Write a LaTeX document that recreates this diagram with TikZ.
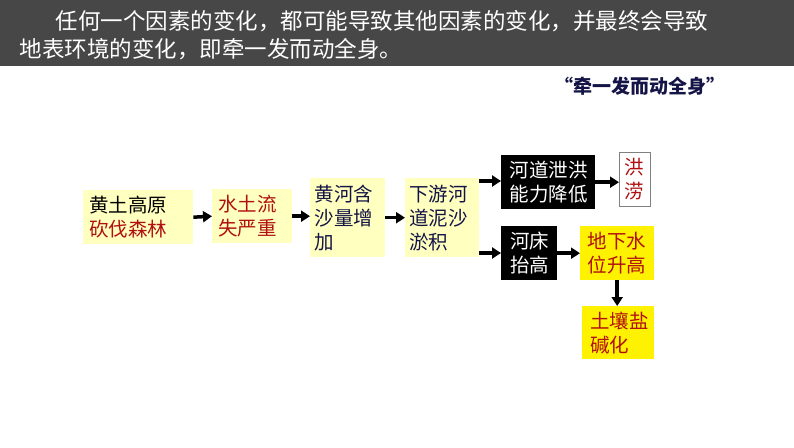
\documentclass[tikz,border=0pt]{standalone}
\usepackage{fontspec}
\setmainfont{Noto Sans CJK SC}
\usetikzlibrary{arrows.meta}
\definecolor{paleyellow}{RGB}{255,255,192}
\definecolor{darkred}{RGB}{176,16,16}
\definecolor{navy}{RGB}{20,20,70}
\begin{document}
\begin{tikzpicture}[x=1pt,y=-1pt,
  box/.style={fill=paleyellow, inner sep=0pt, align=left, anchor=north west, font=\fontsize{19.5}{24}\selectfont},
  blackbox/.style={fill=black, text=white, inner sep=0pt, align=left, anchor=north west, font=\fontsize{19.5}{24}\selectfont},
  flow/.style={-{Triangle[length=9pt,width=11pt]}, line width=3.5pt}
  ]
  \useasboundingbox (0,0) rectangle (794,447);
  \fill[white] (0,0) rectangle (794,447);
  \fill[black!72] (0,0) rectangle (794,66);
  \node[anchor=west, text=white, font=\fontsize{22.5}{26}\selectfont] (line1) at (52,21) {任何一个因素的变化，都可能导致其他因素的变化，并最终会导致};
  \node[anchor=west, text=white, font=\fontsize{22.5}{26}\selectfont] (line2) at (16,49) {地表环境的变化，即牵一发而动全身。};
  \node[text=navy, font=\bfseries\fontsize{19}{22}\selectfont] (quote) at (640,86) {“牵一发而动全身”};

  \node[box, minimum width=110pt, minimum height=54pt, text width=106pt] (A) at (83,190) {\hspace*{4pt}黄土高原\\\hspace*{4pt}\textcolor{darkred}{砍伐森林}};
  \node[box, minimum width=80pt, minimum height=54pt, text width=76pt, text=darkred] (B) at (212,189) {\hspace*{4pt}水土流\\\hspace*{4pt}失严重};
  \node[box, minimum width=75pt, minimum height=79pt, text width=72pt, text=navy] (C) at (310,178) {\hspace*{3pt}黄河含\\\hspace*{3pt}沙量增\\\hspace*{3pt}加};
  \node[box, minimum width=74pt, minimum height=79pt, text width=72pt, text=navy] (D) at (405,178) {\hspace*{3pt}下游河\\\hspace*{3pt}道泥沙\\\hspace*{3pt}淤积};
  \node[blackbox, minimum width=94pt, minimum height=54pt] (E) at (501,155) {\hspace*{4pt}河道泄洪\\\hspace*{4pt}能力降低\hspace*{3pt}};
  \node[draw=gray, fill=white, text=darkred, inner sep=0pt, minimum width=31pt, minimum height=54pt, anchor=north west, font=\fontsize{19.5}{24}\selectfont, align=center] (F) at (619,152) {洪\\涝};
  \node[blackbox, minimum width=56pt, minimum height=54pt] (G) at (501,226) {\hspace*{4pt}河床\\\hspace*{4pt}抬高\hspace*{3pt}};
  \node[box, fill=yellow, text=darkred, minimum width=74pt, minimum height=54pt] (H) at (580,226) {\hspace*{3pt}地下水\\\hspace*{3pt}位升高\hspace*{3pt}};
  \node[box, fill=yellow, text=darkred, minimum width=72pt, minimum height=53pt] (K) at (582,306) {\hspace*{3pt}土壤盐\\\hspace*{3pt}碱化};

  % Arrows
  \draw[flow] (A.east) -- (B.west);
  \draw[flow] (B.east) -- (C.west |- B.east);
  \draw[flow] (C.east |- D.center) -- (D.west);
  \draw[flow] (D.east |- 0,181) -- (E.west |- 0,181);
  \draw[flow] (D.east |- 0,253) -- (G.west |- 0,253);
  \draw[flow] (E.east) -- (F.west |- E.east);
  \draw[flow] (G.east) -- (H.west);
  \draw[flow] (H.south) -- (K.north -| H.south);
\end{tikzpicture}
\end{document}
